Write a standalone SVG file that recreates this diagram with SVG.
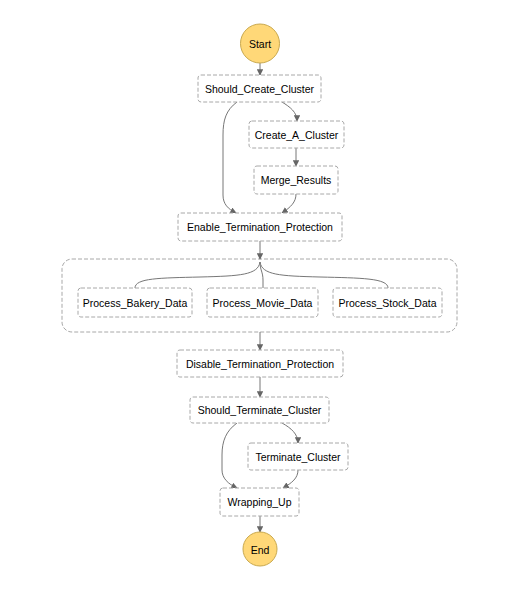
<svg xmlns="http://www.w3.org/2000/svg" width="522" height="599" viewBox="0 0 522 599">
<style>
.n rect{fill:#fff;stroke:#a8a8a8;stroke-width:1;stroke-dasharray:4 2}
.c circle{fill:#ffd878;stroke:#c9a94f;stroke-width:1}
text{font-family:"Liberation Sans",Arial,sans-serif;font-size:10.5px;fill:#000;text-anchor:middle;dominant-baseline:central}
.e path{fill:none;stroke:#777;stroke-width:1}
.a{marker-end:url(#ah)}
</style>
<defs>
<marker id="ah" viewBox="0 0 8 8" refX="7" refY="4" markerWidth="6.5" markerHeight="6.5" markerUnits="userSpaceOnUse" orient="auto">
<path d="M0,0 L8,4 L0,8 z" fill="#666"/>
</marker>
</defs>
<rect width="522" height="599" fill="#fff"/>
<g id="parallel" class="n"><rect x="62" y="259" width="395" height="73" rx="10"/></g>
<g class="e" id="edges">
<path class="a" d="M260,63 V75"/>
<path class="a" d="M282,102 C290,107 297,112 297,121"/>
<path class="a" d="M237,102 C226,110 223,120 223,135 V195 C223,204 228,209 236,213"/>
<path class="a" d="M296,148 V166"/>
<path class="a" d="M296,194 C296,202 291,207 282,213"/>
<path class="a" d="M260,241 V259"/>
<path d="M260,262 C258,275 240,276 200,277 C160,278 135,278 135,288"/>
<path d="M260,262 C262,275 280,276 320,277 C360,278 388,278 388,288"/>
<path d="M260,262 C260,270 263,272 263,280 V288"/>
<path class="a" d="M260,332 V350"/>
<path class="a" d="M260,377 V397"/>
<path class="a" d="M282,423 C291,428 298,434 298,443"/>
<path class="a" d="M237,423 C226,431 222,441 222,455 V470 C222,478 228,484 237,488"/>
<path class="a" d="M298,470 C298,478 292,483 283,488"/>
<path class="a" d="M260,516 V532"/>
</g>
<g id="Start" class="c"><circle cx="260" cy="43.5" r="19.5"/><text x="260" y="44">Start</text></g>
<g id="Should_Create_Cluster" class="n"><rect x="198" y="75" width="123" height="27" rx="3"/><text x="259.5" y="88.5">Should_Create_Cluster</text></g>
<g id="Create_A_Cluster" class="n"><rect x="249" y="121" width="95" height="27" rx="3"/><text x="296.5" y="134.5">Create_A_Cluster</text></g>
<g id="Merge_Results" class="n"><rect x="254" y="166" width="84" height="28" rx="3"/><text x="296" y="180">Merge_Results</text></g>
<g id="Enable_Termination_Protection" class="n"><rect x="178" y="213" width="164" height="28" rx="3"/><text x="260" y="227">Enable_Termination_Protection</text></g>
<g id="Process_Bakery_Data" class="n"><rect x="78" y="288" width="114" height="29" rx="3"/><text x="135" y="302.5">Process_Bakery_Data</text></g>
<g id="Process_Movie_Data" class="n"><rect x="207" y="288" width="111" height="29" rx="3"/><text x="262.5" y="302.5">Process_Movie_Data</text></g>
<g id="Process_Stock_Data" class="n"><rect x="333" y="288" width="109" height="29" rx="3"/><text x="387.5" y="302.5">Process_Stock_Data</text></g>
<g id="Disable_Termination_Protection" class="n"><rect x="177" y="350" width="166" height="27" rx="3"/><text x="260" y="363.5">Disable_Termination_Protection</text></g>
<g id="Should_Terminate_Cluster" class="n"><rect x="190" y="397" width="139" height="26" rx="3"/><text x="259.5" y="410">Should_Terminate_Cluster</text></g>
<g id="Terminate_Cluster" class="n"><rect x="248" y="443" width="100" height="27" rx="3"/><text x="298" y="456.5">Terminate_Cluster</text></g>
<g id="Wrapping_Up" class="n"><rect x="220" y="488" width="79" height="28" rx="3"/><text x="259.5" y="502">Wrapping_Up</text></g>
<g id="End" class="c"><circle cx="260" cy="549" r="17"/><text x="260" y="549.5">End</text></g>
</svg>
